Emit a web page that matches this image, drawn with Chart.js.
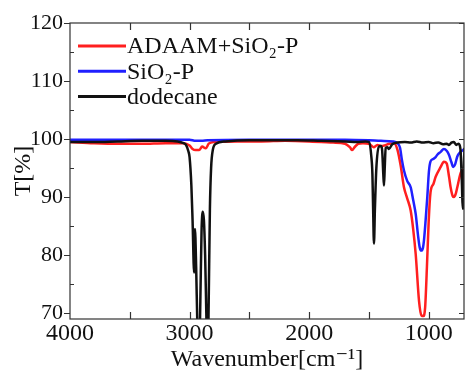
<!DOCTYPE html>
<html>
<head>
<meta charset="utf-8">
<script src="https://cdn.jsdelivr.net/npm/chart.js@4.4.1/dist/chart.umd.min.js"></script>
<style>
  html, body { margin: 0; padding: 0; background: #fff; }
  #wrap { width: 466px; height: 374px; }
</style>
</head>
<body>
<div id="wrap"><canvas id="irChart" width="466" height="374"></canvas></div>
<script>
// series labels
const seriesNames = ['ADAAM+SiO₂-P', 'SiO₂-P', 'dodecane'];
const seriesColors = ['#ff1f1f', '#2020ff', '#111111'];

// ADAAM+SiO2-P (red)
const redWn = [4000, 3800, 3600, 3400, 3200, 3050, 3000, 2975, 2950, 2920, 2895, 2865, 2840, 2800, 2600, 2400, 2200, 2000, 1800, 1700, 1660, 1640, 1620, 1590, 1550, 1500, 1460, 1430, 1400, 1370, 1330, 1290, 1262, 1235, 1207, 1180, 1151, 1130, 1109, 1081, 1060, 1045, 1030, 1015, 1000, 985, 960, 942, 900, 873, 850, 830, 817, 800, 789, 775, 761, 745, 734, 715, 700];
const redT  = [99.5, 99.3, 99.2, 99.2, 99.3, 99.3, 98.9, 98.3, 98.1, 98.1, 98.7, 98.4, 99.2, 99.5, 99.6, 99.6, 99.7, 99.6, 99.4, 99.2, 98.6, 98.1, 98.6, 99.2, 99.3, 99.2, 98.6, 99.0, 98.8, 98.9, 99.2, 99.3, 98.2, 95.5, 91.7, 89.8, 87.7, 84.5, 80.2, 72.1, 69.6, 69.5, 71.0, 78.0, 86.0, 90.8, 92.3, 93.5, 95.2, 96.1, 95.8, 93.5, 91.7, 90.2, 90.0, 90.5, 91.7, 93.2, 94.1, 94.8, 95.0];

// SiO2-P (blue)
const blueWn = [4000, 3500, 3000, 2950, 2900, 2850, 2500, 2000, 1700, 1500, 1400, 1300, 1262, 1240, 1225, 1207, 1180, 1151, 1130, 1109, 1090, 1075, 1062, 1048, 1040, 1026, 1012, 998, 984, 960, 942, 928, 900, 873, 850, 831, 810, 795, 780, 761, 734, 700];
const blueT  = [99.9, 99.9, 99.9, 99.7, 99.7, 99.8, 99.9, 99.9, 99.9, 99.8, 99.7, 99.6, 99.3, 98.5, 96.5, 94.6, 92.8, 91.7, 89.5, 87.1, 83.5, 81.3, 80.8, 81.3, 82.5, 86.0, 90.0, 94.5, 96.2, 96.6, 96.9, 97.3, 97.8, 98.3, 98.0, 97.3, 96.0, 95.2, 95.6, 97.0, 97.8, 98.3];

// dodecane (black)
const blackWn = [4000, 3800, 3600, 3400, 3200, 3100, 3050, 3030, 3010, 3000, 2985, 2975, 2962, 2955, 2945, 2935, 2922, 2910, 2900, 2890, 2880, 2870, 2860, 2850, 2840, 2830, 2820, 2805, 2780, 2700, 2500, 2300, 2100, 1900, 1700, 1600, 1530, 1500, 1480, 1471, 1465, 1458, 1450, 1438, 1416, 1400, 1390, 1380, 1374, 1368, 1360, 1345, 1333, 1305, 1262, 1200, 1150, 1100, 1050, 1000, 960, 920, 880, 850, 831, 810, 790, 770, 750, 735, 722, 716, 711, 705, 700];
const blackT  = [99.5, 99.5, 99.6, 99.7, 99.7, 99.6, 99.3, 99.0, 97.9, 96.9, 92.0, 86.0, 77.0, 84.5, 78.0, 68.0, 60.0, 72.0, 84.0, 87.5, 86.0, 80.0, 70.0, 60.0, 72.0, 88.0, 95.0, 98.2, 99.2, 99.6, 99.8, 99.8, 99.8, 99.7, 99.6, 99.5, 99.6, 99.5, 97.0, 94.0, 88.0, 82.0, 88.0, 95.0, 98.7, 98.8, 98.2, 94.0, 92.0, 95.0, 98.5, 98.6, 98.3, 99.1, 99.4, 99.5, 99.4, 99.6, 99.4, 99.5, 99.3, 99.4, 99.1, 99.2, 99.0, 99.4, 99.5, 99.0, 99.2, 98.3, 92.0, 88.0, 89.0, 96.0, 98.5];

// axis ticks
const xLabels = [4000, 3000, 2000, 1000];
const xTickMarks = [3500, 3000, 2500, 2000, 1500, 1000];
const yLabels = [70, 80, 90, 100, 110, 120];
const yMinor = [75, 85, 95, 105, 115];

const toPts = (wn, t) => wn.map((w, i) => ({ x: w, y: t[i] }));
const allWn = [redWn, blueWn, blackWn];
const allT = [redT, blueT, blackT];

// 枠線と内向きの目盛り、凡例
const frameTicks = {
    id: 'frameTicks',
    afterDatasetsDraw(chart) {
        const { ctx, chartArea: a, scales: { x, y } } = chart;
        ctx.save();
        ctx.strokeStyle = '#333';
        ctx.lineWidth = 1.2;
        ctx.strokeRect(a.left, a.top, a.right - a.left, a.bottom - a.top);
        ctx.beginPath();
        xTickMarks.forEach(v => {
            const px = Math.round(x.getPixelForValue(v)) + 0.5;
            ctx.moveTo(px, a.bottom); ctx.lineTo(px, a.bottom - 7);
            ctx.moveTo(px, a.top); ctx.lineTo(px, a.top + 7);
        });
        yLabels.forEach(v => {
            const py = Math.round(y.getPixelForValue(v)) + 0.5;
            ctx.moveTo(a.left - 6, py); ctx.lineTo(a.left, py);
            ctx.moveTo(a.right, py); ctx.lineTo(a.right - 5, py);
        });
        yMinor.forEach(v => {
            const py = Math.round(y.getPixelForValue(v)) + 0.5;
            ctx.moveTo(a.left, py); ctx.lineTo(a.left + 4, py);
            ctx.moveTo(a.right, py); ctx.lineTo(a.right - 4, py);
        });
        ctx.stroke();

        // legend
        ctx.font = "24px 'Liberation Serif', 'DejaVu Serif', serif";
        ctx.textBaseline = 'middle';
        ctx.fillStyle = '#111';
        chart.data.datasets.forEach((ds, i) => {
            const ly = 46 + i * 25.3;
            ctx.strokeStyle = ds.borderColor;
            ctx.lineWidth = 3;
            ctx.beginPath();
            ctx.moveTo(78, ly); ctx.lineTo(126, ly);
            ctx.stroke();
            ctx.fillText(ds.label, 127, ly + 1);
        });
        ctx.restore();
    }
};

Chart.defaults.font.family = "'Liberation Serif', 'DejaVu Serif', serif";
Chart.defaults.color = '#111';

new Chart(document.getElementById('irChart'), {
    type: 'line',
    data: {
        datasets: seriesNames.map((name, i) => ({
            label: name,
            data: toPts(allWn[i], allT[i]),
            borderColor: seriesColors[i],
            borderWidth: 2.5,
            pointRadius: 0,
            cubicInterpolationMode: 'monotone',
            fill: false,
            order: 3 - i
        }))
    },
    options: {
        responsive: false,
        animation: false,
        layout: { padding: { left: 0, top: 23, right: 2, bottom: 0 } },
        scales: {
            x: {
                type: 'linear',
                reverse: true,
                min: 705,
                max: 4000,
                afterBuildTicks: s => { s.ticks = xLabels.map(v => ({ value: v })); },
                afterFit: s => { s.height = 55; },
                grid: { display: false, drawTicks: false },
                border: { display: false },
                ticks: { font: { size: 24 }, padding: 0, maxRotation: 0, callback: v => String(v) },
                title: { display: true, text: 'Wavenumber[cm⁻¹]', font: { size: 24 }, padding: { top: 0, bottom: 0 } }
            },
            y: {
                min: 69,
                max: 120,
                afterBuildTicks: s => { s.ticks = yLabels.map(v => ({ value: v })); },
                afterFit: s => { s.width = 70; },
                grid: { display: false, drawTicks: false },
                border: { display: false },
                ticks: { font: { size: 22 }, padding: 7, callback: v => String(v) },
                title: { display: true, text: 'T[%]', font: { size: 24 }, padding: { top: 9, bottom: 0 } }
            }
        },
        plugins: {
            legend: { display: false },
            tooltip: { enabled: false }
        }
    },
    plugins: [frameTicks]
});
</script>
</body>
</html>
